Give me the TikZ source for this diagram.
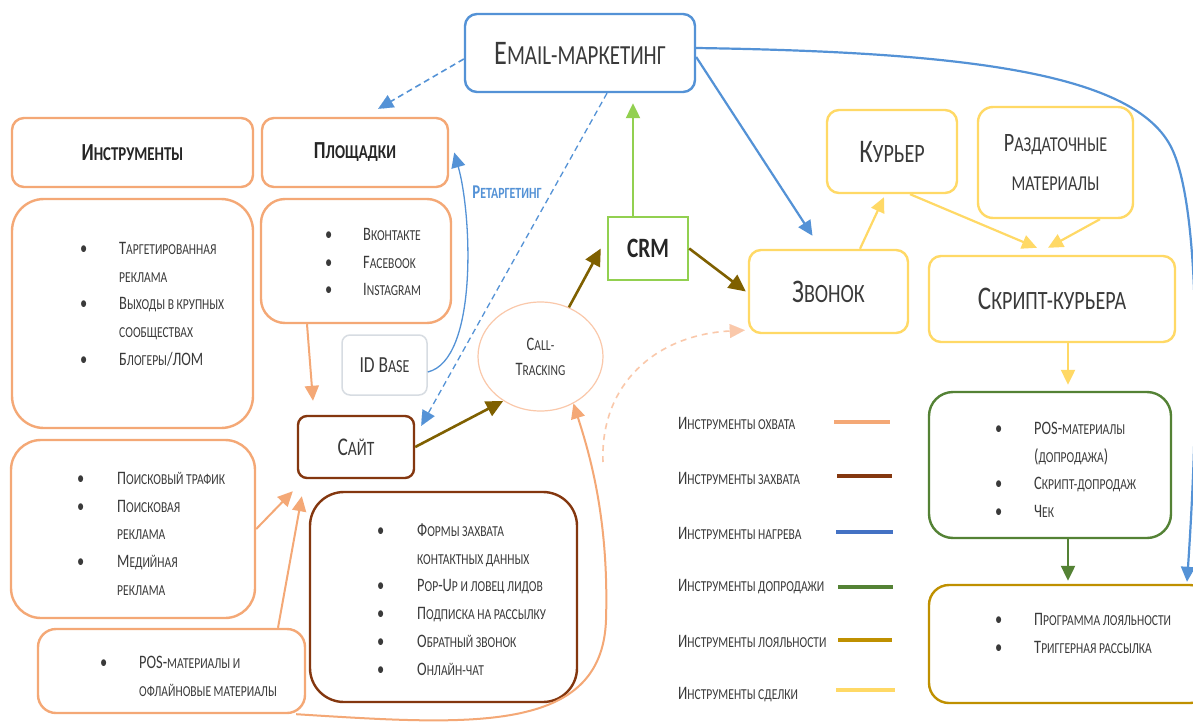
\documentclass[tikz,border=0pt]{standalone}
\usepackage{fontspec}
\setmainfont{Carlito}[FakeStretch=0.76]
\usetikzlibrary{arrows.meta,shapes.geometric}
\makeatletter
\newcommand\lc[1]{{\@tempdima=\f@size pt\relax\@tempdima=0.8\@tempdima\fontsize{\strip@pt\@tempdima}{\f@baselineskip}\selectfont #1}}
\makeatother
\newcommand\li[1]{\textbullet&#1\\}
\newcommand\lii[1]{&#1\\}
\newcommand\blist[2]{\begin{tabular}[t]{@{}p{#1}@{}l@{}}#2\end{tabular}}
\definecolor{corange}{RGB}{244,168,118}
\definecolor{clorange}{RGB}{250,200,170}
\definecolor{cbrown}{RGB}{132,55,15}
\definecolor{cblue}{RGB}{84,146,214}
\definecolor{clegblue}{RGB}{68,114,196}
\definecolor{clgreen}{RGB}{146,208,80}
\definecolor{cdgreen}{RGB}{84,130,53}
\definecolor{colive}{RGB}{127,96,0}
\definecolor{cyellow}{RGB}{255,217,102}
\definecolor{cgold}{RGB}{191,144,0}
\definecolor{ctext}{RGB}{58,58,58}
\definecolor{chead}{RGB}{38,38,38}
\definecolor{cgray}{RGB}{215,220,226}
\begin{document}
\begin{tikzpicture}[x=1pt,y=-1pt,
  box/.style={draw,line width=2.4pt,rounded corners=12pt,fill=white,inner sep=0pt,align=center,text=ctext},
  obox/.style={box,draw=corange},
  ybox/.style={box,draw=cyellow},
  listtxt/.style={inner sep=0pt,anchor=base west,font=\fontsize{19}{27.7}\selectfont,text=ctext},
  legtxt/.style={inner sep=0pt,anchor=west,font=\fontsize{19}{22}\selectfont,text=ctext},
  legline/.style={line width=4pt},
  tip/.style={-{Triangle[length=15pt,width=14pt]}},
  arr/.style={tip,line width=2.4pt},
  oarr/.style={arr,draw=corange,line width=2pt},
  olarr/.style={draw=colive,line width=2.6pt,-{Triangle[length=17pt,width=16pt]}},
  barr/.style={arr,draw=cblue,line width=2.2pt},
  yarr/.style={arr,draw=cyellow,line width=2.2pt},
  garr/.style={arr,line width=2.2pt},
  dblue/.style={-{Triangle[length=15pt,width=14pt,fill=cblue,line width=0.1pt]},draw=cblue,line width=1.6pt,dash pattern=on 6pt off 4pt},
]
\useasboundingbox (0,0) rectangle (1193,725);
\fill[white] (0,0) rectangle (1193,725);

% ---- boxes
\node[box,draw=cblue,minimum width=230,minimum height=78,font=\fontsize{34.5}{36}\selectfont] (email) at (580,53) {E\lc{MAIL-МАРКЕТИНГ}};
\node[obox,minimum width=241,minimum height=69,font=\fontsize{24.5}{26}\selectfont\bfseries,text=chead] (instr) at (132.5,152.5) {И\lc{НСТРУМЕНТЫ}};
\node[obox,minimum width=186,minimum height=69,font=\fontsize{24.5}{26}\selectfont\bfseries,text=chead] (plosh) at (355,152.5) {П\lc{ЛОЩАДКИ}};
\node[obox,rounded corners=32pt,minimum width=241,minimum height=229] (list1) at (132.5,313.5) {};
\node[obox,rounded corners=24pt,minimum width=190,minimum height=124] (plat) at (356,261) {};
\node[box,draw=cgray,line width=1.5pt,rounded corners=8pt,minimum width=85,minimum height=60,font=\fontsize{23}{26}\selectfont] (idbase) at (384.5,365) {ID B\lc{ASE}};
\node[ellipse,draw=clorange,line width=1.2pt,fill=white,inner sep=0pt,minimum width=125,minimum height=109,align=center,text=ctext,font=\fontsize{19}{25}\selectfont] (ct) at (540.5,356.5) {C\lc{ALL-}\\T\lc{RACKING}};
\node[box,draw=cbrown,rounded corners=9pt,minimum width=116,minimum height=62,font=\fontsize{25.5}{28}\selectfont] (site) at (356,447) {С\lc{АЙТ}};
\node[box,draw=clgreen,rounded corners=0pt,minimum width=80,minimum height=63,font=\fontsize{28}{30}\selectfont\bfseries,text=chead] (crm) at (648,248.5) {CRM};
\node[ybox,minimum width=159,minimum height=83,font=\fontsize{33}{34}\selectfont] (zvonok) at (828.5,291.5) {З\lc{ВОНОК}};
\node[ybox,minimum width=130,minimum height=83,font=\fontsize{33}{36}\selectfont] (kurier) at (892,151.5) {К\lc{УРЬЕР}};
\node[ybox,rounded corners=15pt,minimum width=155,minimum height=111,font=\fontsize{26.5}{39}\selectfont] (razd) at (1055.5,162.5) {Р\lc{АЗДАТОЧНЫЕ}\\\lc{МАТЕРИАЛЫ}};
\node[ybox,minimum width=246,minimum height=86,font=\fontsize{33}{34}\selectfont] (script) at (1052,299) {С\lc{КРИПТ-КУРЬЕРА}};
\node[box,draw=cdgreen,rounded corners=24pt,minimum width=242,minimum height=146] (green) at (1050,465) {};
\node[box,draw=cgold,rounded corners=20pt,minimum width=281,minimum height=118] (loyal) at (1069.5,644) {};
\node[obox,rounded corners=30pt,minimum width=244,minimum height=178] (box2) at (133,529) {};
\node[obox,rounded corners=18pt,minimum width=267,minimum height=84] (box3) at (171.5,671) {};
\node[box,draw=cbrown,rounded corners=34pt,minimum width=267,minimum height=210] (forms) at (443.5,597) {};

% ---- list contents
\node[listtxt] (t1) at (80,254.5) {\blist{39pt}{\li{Т\lc{АРГЕТИРОВАННАЯ}}\lii{\lc{РЕКЛАМА}}\li{В\lc{ЫХОДЫ В КРУПНЫХ}}\lii{\lc{СООБЩЕСТВАХ}}\li{Б\lc{ЛОГЕРЫ}/ЛОМ}}};
\node[listtxt] (t2) at (325,240.5) {\blist{38pt}{\li{В\lc{КОНТАКТЕ}}\li{F\lc{ACEBOOK}}\li{I\lc{NSTAGRAM}}}};
\node[listtxt] (t3) at (77,484.5) {\blist{40pt}{\li{П\lc{ОИСКОВЫЙ ТРАФИК}}\li{П\lc{ОИСКОВАЯ}}\lii{\lc{РЕКЛАМА}}\li{М\lc{ЕДИЙНАЯ}}\lii{\lc{РЕКЛАМА}}}};
\node[listtxt] (t4) at (100,668.5) {\blist{39pt}{\li{POS-\lc{МАТЕРИАЛЫ И}}\lii{\lc{ОФЛАЙНОВЫЕ МАТЕРИАЛЫ}}}};
\node[listtxt] (t5) at (377,536.5) {\blist{40pt}{\li{Ф\lc{ОРМЫ ЗАХВАТА}}\lii{\lc{КОНТАКТНЫХ ДАННЫХ}}\li{P\lc{OP}-U\lc{P И ЛОВЕЦ ЛИДОВ}}\li{П\lc{ОДПИСКА НА РАССЫЛКУ}}\li{О\lc{БРАТНЫЙ ЗВОНОК}}\li{О\lc{НЛАЙН-ЧАТ}}}};
\node[listtxt] (t6) at (995,434.5) {\blist{39pt}{\li{POS-\lc{МАТЕРИАЛЫ}}\lii{(\lc{ДОПРОДАЖА})}\li{С\lc{КРИПТ-ДОПРОДАЖ}}\li{Ч\lc{ЕК}}}};
\node[listtxt] (t7) at (995,625.5) {\blist{39pt}{\li{П\lc{РОГРАММА ЛОЯЛЬНОСТИ}}\li{Т\lc{РИГГЕРНАЯ РАССЫЛКА}}}};

% ---- label
\node[inner sep=0pt,text=cblue,font=\fontsize{19.5}{22}\selectfont\bfseries] (retl) at (507,192) {Р\lc{ЕТАРГЕТИНГ}};

% ---- legend
\node[legtxt] (l1) at (678,423) {И\lc{НСТРУМЕНТЫ ОХВАТА}};
\node[legtxt] (l2) at (678,478) {И\lc{НСТРУМЕНТЫ ЗАХВАТА}};
\node[legtxt] (l3) at (678,533) {И\lc{НСТРУМЕНТЫ НАГРЕВА}};
\node[legtxt] (l4) at (678,587) {И\lc{НСТРУМЕНТЫ ДОПРОДАЖИ}};
\node[legtxt] (l5) at (678,641) {И\lc{НСТРУМЕНТЫ ЛОЯЛЬНОСТИ}};
\node[legtxt] (l6) at (678,695) {И\lc{НСТРУМЕНТЫ СДЕЛКИ}};
\draw[legline,draw=corange] (834,422) -- (890,422);
\draw[legline,draw=cbrown] (837,476) -- (892,476);
\draw[legline,draw=clegblue] (836,532) -- (893,532);
\draw[legline,draw=cdgreen] (838,587) -- (893,587);
\draw[legline,draw=cgold] (838,640) -- (892,640);
\draw[legline,draw=cyellow] (836,690) -- (895,690);

% ---- connectors
\coordinate (dstart) at (603,462);
\draw[oarr] ([xshift=-49pt]plat.south) -- ([xshift=-43pt,yshift=14pt]site.north);
\draw[oarr] (box2.east) -- ([xshift=-4pt,yshift=-12pt]site.south west);
\draw[oarr] ([xshift=106.5pt]box3.north) -- ([xshift=5pt,yshift=-17pt]site.south west);
\draw[oarr] ([xshift=-10pt]box3.south east) .. controls (470,725) and (602,735) .. (606,620) .. controls (609,520) and (590,455) .. (ct.-55);
\draw[-{Triangle[length=15pt,width=14pt,line width=0.1pt]},draw=clorange,line width=1.6pt,dash pattern=on 6pt off 5pt] (dstart) .. controls (600,385) and (655,335) .. ([xshift=-3pt,yshift=4pt]zvonok.south west);
\draw[olarr] (site.east) -- (ct.-130);
\draw[olarr] (ct.60) -- ([xshift=-6pt]crm.west);
\draw[olarr] (crm.east) -- ([xshift=-2pt]zvonok.west);
\draw[arr,draw=clgreen,line width=2.2pt] ([xshift=-15pt]crm.north) -- ([xshift=53pt,yshift=-10pt]email.south);
\draw[dblue] ([yshift=-6pt]email.west) -- ([xshift=-71pt,yshift=8pt]plosh.north east);
\draw[dblue,line width=1.3pt] ([xshift=27pt]email.south) -- ([xshift=6pt,yshift=-11pt]site.north east);
\draw[tip,draw=cblue,line width=1.3pt] ([yshift=-7pt]idbase.east) .. controls (478,360) and (472,215) .. ([xshift=5pt]plosh.east);
\draw[barr] ([yshift=-4pt]email.east) -- ([xshift=-16pt,yshift=13pt]zvonok.north);
\draw[barr] ([yshift=5pt]email.east) .. controls (960,52) and (1130,72) .. (1170,145) .. controls (1203,205) and (1198,420) .. ([xshift=117.5pt,yshift=2pt]loyal.north);
\draw[yarr] ([xshift=31.5pt]zvonok.north) -- ([xshift=-8pt,yshift=-3pt]kurier.south);
\draw[yarr] ([xshift=18pt]kurier.south) -- ([xshift=-15pt,yshift=7pt]script.north);
\draw[yarr] ([xshift=44.5pt]razd.south) -- ([xshift=-4pt,yshift=7pt]script.north);
\draw[yarr] ([xshift=16pt]script.south) -- ([xshift=18pt,yshift=6pt]green.north);
\draw[garr,draw=cdgreen] ([xshift=18pt]green.south) -- ([xshift=-1.5pt,yshift=3pt]loyal.north);
\end{tikzpicture}
\end{document}
